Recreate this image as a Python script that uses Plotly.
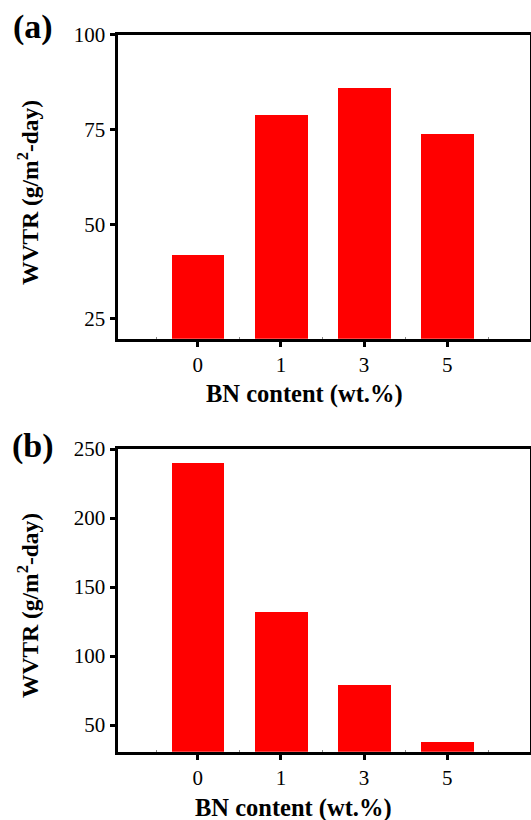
import plotly.graph_objects as go

categories = ["0", "1", "3", "5"]
wvtr_a = [42, 79, 86, 74]
wvtr_b = [240, 132, 79, 38]
yticks_a = [25, 50, 75, 100]
yticks_b = [50, 100, 150, 200, 250]

W, H = 531, 820
FONT = "Liberation Serif, Times New Roman, serif"
RED = "#ff0000"

pos = list(range(len(categories)))

fig = go.Figure()
fig.add_trace(go.Bar(x=pos, y=wvtr_a, width=0.63, marker=dict(color=RED, line=dict(width=0)),
                     xaxis="x", yaxis="y", showlegend=False))
fig.add_trace(go.Bar(x=pos, y=wvtr_b, width=0.63, marker=dict(color=RED, line=dict(width=0)),
                     xaxis="x2", yaxis="y2", showlegend=False))

def py(px):
    return 1 - px / H

xdom = [117.5 / W, 530 / W]
axis_common = dict(showline=True, linecolor="black", linewidth=3, mirror=True,
                   ticks="outside", tickcolor="black", showgrid=False, zeroline=False,
                   tickfont=dict(family=FONT, size=21, color="black"))

fig.update_layout(
    width=W, height=H, margin=dict(l=0, r=0, t=0, b=0, autoexpand=False),
    paper_bgcolor="white", plot_bgcolor="white", bargap=0,
    font=dict(family=FONT, color="black"),
    xaxis=dict(domain=xdom, anchor="y", range=[-0.966, 3.997], tickvals=pos, ticktext=categories,
               ticklen=5, tickwidth=3,
               minor=dict(tickvals=[-0.5, 0.5, 1.5, 2.5, 3.5], ticks="inside", ticklen=2,
                          tickwidth=1, tickcolor="#888888"),
               **axis_common),
    yaxis=dict(domain=[py(338.7), py(34.7)], anchor="x", range=[19.8, 100], tickvals=yticks_a,
               ticklen=5, tickwidth=3, **axis_common),
    xaxis2=dict(domain=xdom, anchor="y2", range=[-0.966, 3.997], tickvals=pos, ticktext=categories,
                ticklen=5, tickwidth=3,
                minor=dict(tickvals=[-0.5, 0.5, 1.5, 2.5, 3.5], ticks="inside", ticklen=2,
                           tickwidth=1, tickcolor="#888888"),
                **axis_common),
    yaxis2=dict(domain=[py(751.7), py(449)], anchor="x2", range=[30.7, 250], tickvals=yticks_b,
                ticklen=5, tickwidth=3, **axis_common),
)

def ann(text, x, y, size, angle=0):
    fig.add_annotation(text=text, x=x / W, y=py(y), xref="paper", yref="paper",
                       xanchor="center", yanchor="middle", showarrow=False, textangle=angle,
                       font=dict(family=FONT, size=size, color="black"))

ann("<b>(a)</b>", 33, 27, 34)
ann("<b>(b)</b>", 33, 446, 34)
ann("<b>WVTR (g/m<sup>2</sup>-day)</b>", 28, 193, 23.5, -90)
ann("<b>WVTR (g/m<sup>2</sup>-day)</b>", 28, 606, 23.5, -90)
ann("<b>BN content (wt.%)</b>", 304, 394, 24.5)
ann("<b>BN content (wt.%)</b>", 293, 808, 24.5)

fig.write_html("out.html")
